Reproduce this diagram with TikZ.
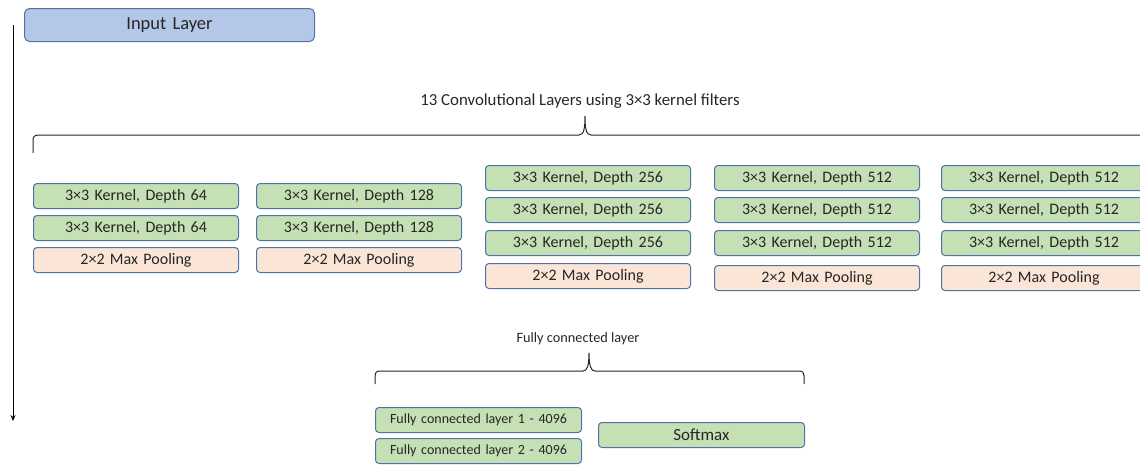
\documentclass[tikz,border=0pt]{standalone}
\usepackage{fontspec}
\setmainfont{Carlito}
\usetikzlibrary{arrows.meta}
\definecolor{boxborder}{HTML}{4F72A8}
\definecolor{convfill}{HTML}{C5E0B4}
\definecolor{poolfill}{HTML}{FBE5D6}
\definecolor{inputfill}{HTML}{B4C7E7}
\definecolor{txt}{HTML}{262626}
\tikzset{
  layerbox/.style={draw=boxborder, line width=1pt, rounded corners=3.5pt, minimum height=25pt, inner sep=0pt, text=txt, font=\fontsize{16}{18}\selectfont, anchor=north west, text width=205pt, align=center},
  conv/.style={layerbox, fill=convfill},
  pool/.style={layerbox, fill=poolfill},
  inp/.style={layerbox, fill=inputfill, text width=290pt, minimum height=33pt, rounded corners=5pt, font=\fontsize{18.5}{20}\selectfont},
  fc/.style={layerbox, fill=convfill, text width=206pt, font=\fontsize{14}{16}\selectfont},
  bracepath/.style={draw=black!85, line width=1pt},
  lbl/.style={text=txt, inner sep=0pt}
}
\begin{document}
\begin{tikzpicture}[x=1pt,y=-1pt]
\useasboundingbox (0,0) rectangle (1140,464);
% input
\node[inp] (input) at (24,8) {Input Layer};
% vertical arrow
\coordinate (arrS) at (13,25);
\coordinate (arrE) at (13,421);
\draw[line width=1pt, -{Stealth[length=6pt,width=5pt]}] (arrS) -- (arrE);
% top brace
\node[lbl, font=\fontsize{16.8}{18}\selectfont] (convlabel) at (580,101) {13 Convolutional Layers using 3×3 kernel filters};
\draw[bracepath] (33,153) -- (33,141) .. controls (33,137) and (34,135) .. (39,135) -- (579,135) .. controls (584,135) and (585,128) .. (585,116) .. controls (585,128) and (586,135) .. (591,135) -- (1150,135);
% column 1
\node[conv] (c1a) at (33,183) {3×3 Kernel, Depth 64};
\node[conv] (c1b) at (33,215) {3×3 Kernel, Depth 64};
\node[pool] (c1p) at (33,247) {2×2 Max Pooling};
% column 2
\node[conv] (c2a) at (256,183) {3×3 Kernel, Depth 128};
\node[conv] (c2b) at (256,215) {3×3 Kernel, Depth 128};
\node[pool] (c2p) at (256,247) {2×2 Max Pooling};
% column 3
\node[conv] (c3a) at (485,165) {3×3 Kernel, Depth 256};
\node[conv] (c3b) at (485,197) {3×3 Kernel, Depth 256};
\node[conv] (c3c) at (485,230) {3×3 Kernel, Depth 256};
\node[pool] (c3p) at (485,263) {2×2 Max Pooling};
% column 4
\node[conv] (c4a) at (714,165) {3×3 Kernel, Depth 512};
\node[conv] (c4b) at (714,197) {3×3 Kernel, Depth 512};
\node[conv] (c4c) at (714,230) {3×3 Kernel, Depth 512};
\node[pool] (c4p) at (714,265) {2×2 Max Pooling};
% column 5
\node[conv] (c5a) at (941,165) {3×3 Kernel, Depth 512};
\node[conv] (c5b) at (941,197) {3×3 Kernel, Depth 512};
\node[conv] (c5c) at (941,230) {3×3 Kernel, Depth 512};
\node[pool] (c5p) at (941,265) {2×2 Max Pooling};
% bottom brace
\node[lbl, font=\fontsize{14.3}{16}\selectfont] (fclabel) at (578,339) {Fully connected layer};
\draw[bracepath] (375,384) -- (375,376) .. controls (375,373) and (376,371) .. (380,371) -- (583,371) .. controls (587,371) and (589,366) .. (589,353) .. controls (589,366) and (591,371) .. (595,371) -- (799,371) .. controls (803,371) and (804,373) .. (804,376) -- (804,384);
% fully connected
\node[fc] (fc1) at (375,407) {Fully connected layer 1 - 4096};
\node[fc] (fc2) at (375,438) {Fully connected layer 2 - 4096};
\node[fc, font=\fontsize{17}{19}\selectfont] (soft) at (598,422) {Softmax};
\end{tikzpicture}
\end{document}
